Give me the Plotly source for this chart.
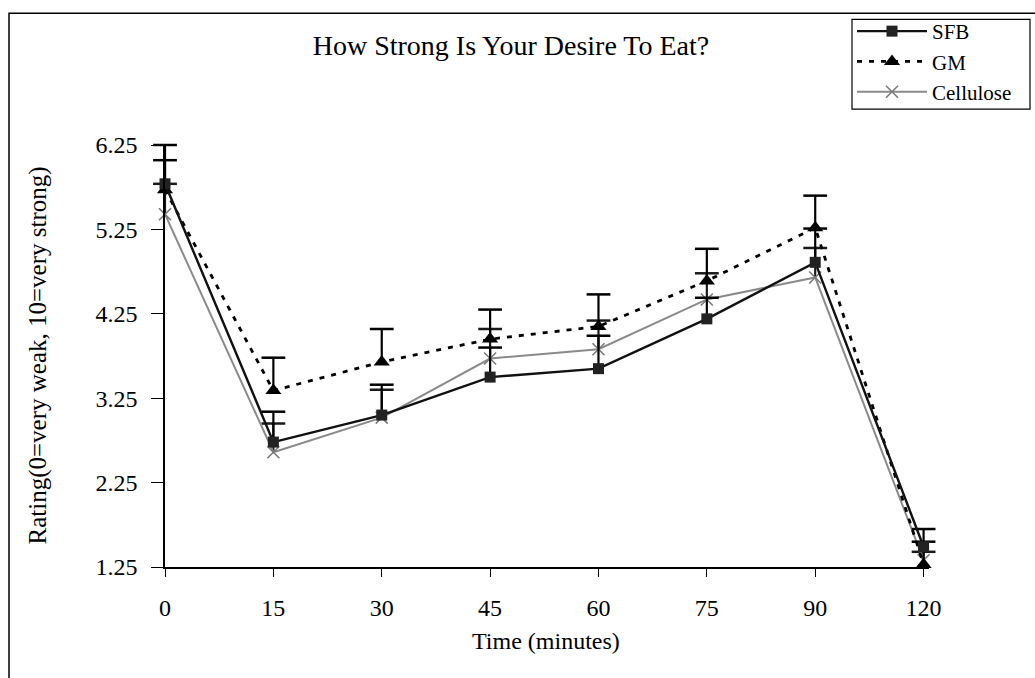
import plotly.graph_objects as go

time_labels = ["0", "15", "30", "45", "60", "75", "90", "120"]
x_idx = list(range(len(time_labels)))

sfb = [5.79, 2.73, 3.05, 3.50, 3.60, 4.19, 4.86, 1.49]
sfb_err = [0.46, 0.36, 0.36, 0.35, 0.39, 0.25, 0.40, 0.06]

gm = [5.72, 3.34, 3.68, 3.95, 4.10, 4.64, 5.27, 1.28]
gm_err = [0.35, 0.39, 0.39, 0.35, 0.38, 0.38, 0.38, 0.42]

cell = [5.43, 2.61, 3.02, 3.72, 3.83, 4.42, 4.68, 1.33]
cell_err = [0.36, 0.34, 0.33, 0.35, 0.34, 0.31, 0.35, 0.10]

y_ticks = [1.25, 2.25, 3.25, 4.25, 5.25, 6.25]

FONT = "Liberation Serif, Times New Roman, serif"

fig = go.Figure()

def add_series(name, y, err, color, dash, width, symbol, msize, mcolor, mline, errcolor):
    # error stems (upper only)
    fig.add_trace(go.Scatter(
        x=x_idx, y=y, mode="markers", marker=dict(size=0.1, color="rgba(0,0,0,0)"),
        error_y=dict(type="data", symmetric=False, array=err, arrayminus=[0]*len(err),
                     width=0, thickness=2.2, color=errcolor),
        showlegend=False, hoverinfo="skip", cliponaxis=False))
    # caps
    caps = [a + b for a, b in zip(y, err)]
    fig.add_trace(go.Scatter(
        x=x_idx, y=caps, mode="markers",
        marker=dict(symbol="line-ew", size=17, line=dict(width=2.5, color=errcolor)),
        showlegend=False, hoverinfo="skip", cliponaxis=False))
    fig.add_trace(go.Scatter(
        x=x_idx, y=y, mode="lines+markers", name=name,
        line=dict(color=color, width=width, dash=dash),
        marker=dict(symbol=symbol, size=msize, color=mcolor, line=mline),
        cliponaxis=False))

add_series("Cellulose", cell, cell_err, "#8a8a8a", "solid", 2, "x-thin", 12, "#7a7a7a",
           dict(width=1.6, color="#7a7a7a"), "#1a1a1a")
add_series("GM", gm, gm_err, "#000000", "5px,7px", 2.8, "triangle-up", 14, "#000000",
           dict(width=0), "#000000")
add_series("SFB", sfb, sfb_err, "#111111", "solid", 2.4, "square", 11, "#222222",
           dict(width=0), "#000000")

# legend order: SFB, GM, Cellulose
for tr in fig.data:
    if tr.name == "SFB":
        tr.legendrank = 1
    elif tr.name == "GM":
        tr.legendrank = 2
    elif tr.name == "Cellulose":
        tr.legendrank = 3

L, R, T, B = 165, 106, 144, 111
W, H = 1035, 678
pw = W - L - R
ph = H - T - B

def px2paper_x(px):
    return (px - L) / pw

def py2paper_y(py):
    return (H - B - py) / ph

fig.update_layout(
    width=W, height=H,
    margin=dict(l=L, r=R, t=T, b=B, pad=0),
    paper_bgcolor="white", plot_bgcolor="white",
    font=dict(family=FONT, color="black"),
    title=dict(text="How Strong Is Your Desire To Eat?", x=511 / W, y=1 - 45 / H,
               xanchor="center", yanchor="middle", xref="container",
               yref="container", font=dict(size=28, family=FONT, color="black")),
    xaxis=dict(range=[0, 7.05], tickmode="array", tickvals=x_idx, ticktext=time_labels,
               showgrid=False, zeroline=False, showline=True, linecolor="black", linewidth=1.5,
               ticks="outside", ticklen=8, tickwidth=1.2, tickcolor="black",
               tickfont=dict(size=24, family=FONT), ticklabelstandoff=10),
    yaxis=dict(range=[1.25, 6.25], tickmode="array", tickvals=y_ticks,
               ticktext=[f"{v:.2f}" for v in y_ticks],
               showgrid=False, zeroline=False, showline=True, linecolor="black", linewidth=1.5,
               ticks="outside", ticklen=12, tickwidth=1.2, tickcolor="black",
               tickfont=dict(size=24, family=FONT), ticklabelstandoff=9),
    legend=dict(x=px2paper_x(852), y=py2paper_y(11), xanchor="left", yanchor="top",
                borderwidth=0, bgcolor="rgba(0,0,0,0)",
                font=dict(size=21, family=FONT), itemwidth=70, tracegroupgap=0),
    showlegend=True,
)

fig.add_annotation(text="Rating(0=very weak, 10=very strong)", textangle=-90,
                   x=px2paper_x(38), y=py2paper_y(355), xref="paper", yref="paper",
                   showarrow=False, font=dict(size=25, family=FONT),
                   xanchor="center", yanchor="middle")
fig.add_annotation(text="Time (minutes)", x=px2paper_x(546), y=py2paper_y(641),
                   xref="paper", yref="paper", showarrow=False,
                   font=dict(size=24, family=FONT), xanchor="center", yanchor="middle")

# outer frame of the chart area
fig.add_shape(type="rect", xref="paper", yref="paper",
              x0=px2paper_x(9), x1=px2paper_x(1045), y0=py2paper_y(690), y1=py2paper_y(12),
              line=dict(color="black", width=1.5), fillcolor="rgba(0,0,0,0)", layer="below")
# legend frame
fig.add_shape(type="rect", xref="paper", yref="paper",
              x0=px2paper_x(852), x1=px2paper_x(1030), y0=py2paper_y(108), y1=py2paper_y(18),
              line=dict(color="black", width=1.2), fillcolor="white", layer="below")

fig.write_html("out.html")
